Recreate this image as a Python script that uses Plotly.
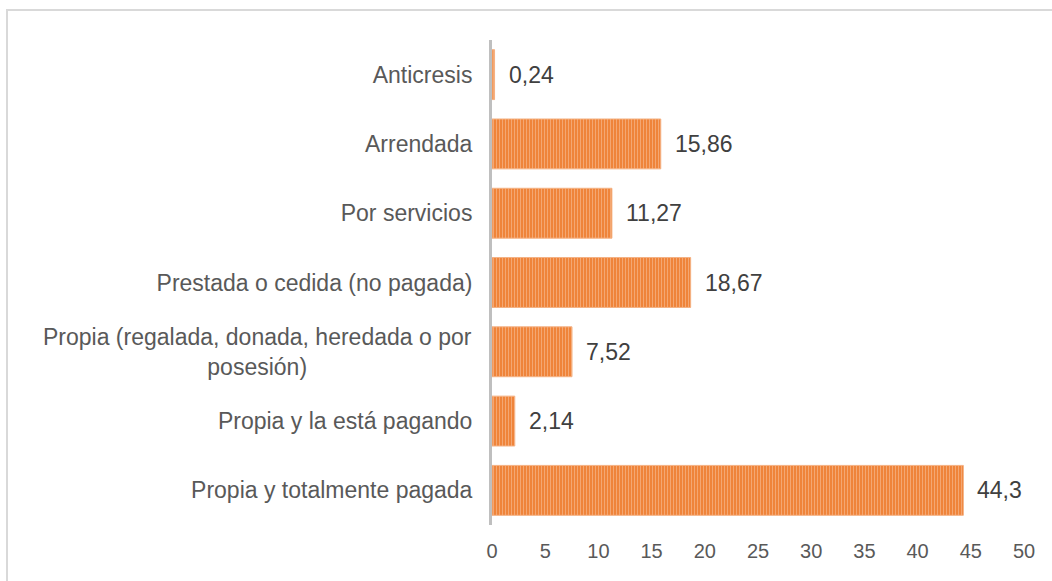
import plotly.graph_objects as go

# Tipo de tenencia de la vivienda (%)
categorias = [
    "Propia y totalmente pagada",
    "Propia y la está pagando",
    "Propia (regalada, donada, heredada o por<br>posesión)",
    "Prestada o cedida (no pagada)",
    "Por servicios",
    "Arrendada",
    "Anticresis",
]
valores = [44.3, 2.14, 7.52, 18.67, 11.27, 15.86, 0.24]
ticks_x = [0, 5, 10, 15, 20, 25, 30, 35, 40, 45, 50]

W, H = 1052, 581
L, R, T, B = 492, 28, 40, 56
pw, ph = W - L - R, H - T - B
FONT = "Liberation Sans, Arial"

fig = go.Figure()
fig.add_trace(go.Bar(
    x=valores,
    y=categorias,
    orientation="h",
    width=0.72,
    marker=dict(
        color="#EE8138",
        line=dict(color="#F4B183", width=1),
        pattern=dict(shape="|", fgcolor="#FAD0B0", bgcolor="#EE7F34",
                     size=3, solidity=0.4),
    ),
    hoverinfo="skip",
))

# Etiquetas de valor con coma decimal
for v, c in zip(valores, categorias):
    fig.add_annotation(
        x=v, y=c, text=f"{v}".replace(".", ","),
        xanchor="left", yanchor="middle", xshift=12, showarrow=False,
        font=dict(family=FONT, size=23, color="#404040"),
    )

# Las etiquetas de varias líneas se centran como bloque; las demás van como ticks
ticktext = []
for c in categorias:
    if "<br>" in c:
        ticktext.append("")
        fig.add_annotation(
            x=0, xref="paper", y=c, yref="y", text=c,
            xanchor="right", yanchor="middle", xshift=-18, align="center",
            showarrow=False, font=dict(family=FONT, size=23, color="#595959"),
        )
    else:
        ticktext.append(c)

# Marco exterior del gráfico
fig.add_shape(
    type="rect", xref="paper", yref="paper",
    x0=(7 - L) / pw, x1=1.2, y0=-0.3, y1=1 + (T - 10) / ph,
    line=dict(color="#D9D9D9", width=2), fillcolor="rgba(0,0,0,0)", layer="below",
)

fig.update_layout(
    width=W, height=H,
    margin=dict(l=L, r=R, t=T, b=B, autoexpand=False),
    plot_bgcolor="white", paper_bgcolor="white",
    showlegend=False,
    xaxis=dict(
        range=[0, 50], tickvals=ticks_x, showgrid=False, zeroline=False,
        showline=False, ticks="", ticklabelstandoff=12,
        tickfont=dict(family=FONT, size=20, color="#595959"),
    ),
    yaxis=dict(
        range=[-0.5, 6.5], showgrid=False, zeroline=False,
        tickmode="array", tickvals=categorias, ticktext=ticktext,
        showline=True, linecolor="#BFBFBF", linewidth=3, ticks="",
        ticklabelstandoff=12,
        tickfont=dict(family=FONT, size=23, color="#595959"),
    ),
)

fig.write_html("out.html")
